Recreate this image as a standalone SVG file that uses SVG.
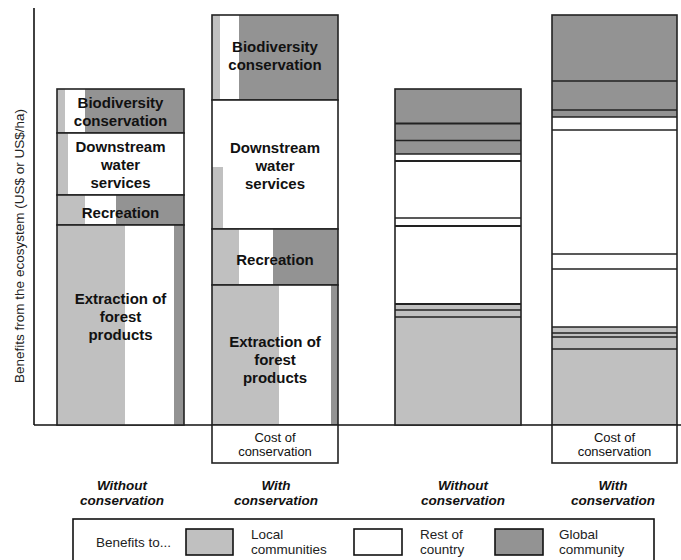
<svg xmlns="http://www.w3.org/2000/svg" width="681" height="560" viewBox="0 0 681 560">
<style>
.lt{fill:#c0c0c0}
.wh{fill:#ffffff}
.dk{fill:#939393}
.ol{fill:none;stroke:#222;stroke-width:1.6}
.ax{stroke:#111;stroke-width:1.6;fill:none}
.lb{font-family:"Liberation Sans",Arial,sans-serif;font-weight:bold;font-size:15px;fill:#111;text-anchor:middle}
.sm{font-family:"Liberation Sans",Arial,sans-serif;font-size:13px;fill:#111;text-anchor:middle}
.cat{font-family:"Liberation Sans",Arial,sans-serif;font-weight:bold;font-style:italic;font-size:13.5px;fill:#111;text-anchor:middle}
.lg{font-family:"Liberation Sans",Arial,sans-serif;font-size:13.5px;fill:#222}
</style>
<rect x="0" y="0" width="681" height="560" fill="#ffffff"/>

<g id="axes">
<line class="ax" x1="34" y1="8" x2="34" y2="425"/>
<line class="ax" x1="34" y1="425" x2="681" y2="425"/>
<text class="lg" transform="translate(24,246) rotate(-90)" text-anchor="middle">Benefits from the ecosystem (US$ or US$/ha)</text>
</g>

<!-- Bar 1: Without conservation -->
<g id="b1-biodiversity">
<rect class="lt" x="57" y="89" width="8" height="44"/>
<rect class="wh" x="65" y="89" width="20" height="44"/>
<rect class="dk" x="85" y="89" width="99" height="44"/>
<rect class="ol" x="57" y="89" width="127" height="44"/>
<text class="lb" x="120.5" y="108">Biodiversity</text>
<text class="lb" x="120.5" y="126">conservation</text>
</g>
<g id="b1-water">
<rect class="lt" x="57" y="133" width="11" height="62"/>
<rect class="wh" x="68" y="133" width="116" height="62"/>
<rect class="ol" x="57" y="133" width="127" height="62"/>
<text class="lb" x="120.5" y="152">Downstream</text>
<text class="lb" x="120.5" y="170">water</text>
<text class="lb" x="120.5" y="188">services</text>
</g>
<g id="b1-recreation">
<rect class="lt" x="57" y="195" width="28" height="30"/>
<rect class="wh" x="85" y="195" width="31" height="30"/>
<rect class="dk" x="116" y="195" width="68" height="30"/>
<rect class="ol" x="57" y="195" width="127" height="30"/>
<text class="lb" x="120.5" y="218">Recreation</text>
</g>
<g id="b1-extraction">
<rect class="lt" x="57" y="225" width="68" height="200"/>
<rect class="wh" x="125" y="225" width="49" height="200"/>
<rect class="dk" x="174" y="225" width="10" height="200"/>
<rect class="ol" x="57" y="225" width="127" height="200"/>
<text class="lb" x="120.5" y="304">Extraction of</text>
<text class="lb" x="120.5" y="322">forest</text>
<text class="lb" x="120.5" y="340">products</text>
</g>

<!-- Bar 2: With conservation -->
<g id="b2-biodiversity">
<rect class="lt" x="212" y="15" width="8" height="85"/>
<rect class="wh" x="220" y="15" width="19" height="85"/>
<rect class="dk" x="239" y="15" width="99" height="85"/>
<rect class="ol" x="212" y="15" width="126" height="85"/>
<text class="lb" x="275" y="52">Biodiversity</text>
<text class="lb" x="275" y="70">conservation</text>
</g>
<g id="b2-water">
<rect class="wh" x="212" y="100" width="126" height="129"/>
<rect class="lt" x="212" y="167" width="11" height="62"/>
<rect class="ol" x="212" y="100" width="126" height="129"/>
<text class="lb" x="275" y="153">Downstream</text>
<text class="lb" x="275" y="171">water</text>
<text class="lb" x="275" y="189">services</text>
</g>
<g id="b2-recreation">
<rect class="lt" x="212" y="229" width="27" height="56"/>
<rect class="wh" x="239" y="229" width="34" height="56"/>
<rect class="dk" x="273" y="229" width="65" height="56"/>
<rect class="ol" x="212" y="229" width="126" height="56"/>
<text class="lb" x="275" y="265">Recreation</text>
</g>
<g id="b2-extraction">
<rect class="lt" x="212" y="285" width="67" height="140"/>
<rect class="wh" x="279" y="285" width="52" height="140"/>
<rect class="dk" x="331" y="285" width="7" height="140"/>
<rect class="ol" x="212" y="285" width="126" height="140"/>
<text class="lb" x="275" y="347">Extraction of</text>
<text class="lb" x="275" y="365">forest</text>
<text class="lb" x="275" y="383">products</text>
</g>
<g id="b2-cost">
<rect class="wh" x="212" y="425" width="126" height="38"/>
<rect class="ol" x="212" y="425" width="126" height="38"/>
<text class="sm" x="275" y="442">Cost of</text>
<text class="sm" x="275" y="456">conservation</text>
</g>

<!-- Bar 3: Without conservation (by beneficiary) -->
<g id="b3">
<rect class="dk" x="395" y="89" width="126" height="65"/>
<rect class="wh" x="395" y="154" width="126" height="149"/>
<rect class="lt" x="395" y="303" width="126" height="122"/>
<rect class="ol" x="395" y="89" width="126" height="336"/>
<g class="ol">
<line x1="395" y1="123.5" x2="521" y2="123.5" stroke-width="2.2"/>
<line x1="395" y1="140.5" x2="521" y2="140.5"/>
<line x1="395" y1="154" x2="521" y2="154"/>
<line x1="395" y1="161" x2="521" y2="161" stroke-width="2.2"/>
<line x1="395" y1="218" x2="521" y2="218"/>
<line x1="395" y1="226" x2="521" y2="226" stroke-width="2.2"/>
<line x1="395" y1="304" x2="521" y2="304" stroke-width="2.2"/>
<line x1="395" y1="310" x2="521" y2="310"/>
<line x1="395" y1="317" x2="521" y2="317"/>
</g>
</g>

<!-- Bar 4: With conservation (by beneficiary) -->
<g id="b4">
<rect class="dk" x="552" y="15" width="125" height="102"/>
<rect class="wh" x="552" y="117" width="125" height="210"/>
<rect class="lt" x="552" y="327" width="125" height="98"/>
<rect class="ol" x="552" y="15" width="125" height="410"/>
<g class="ol">
<line x1="552" y1="81" x2="677" y2="81"/>
<line x1="552" y1="110" x2="677" y2="110"/>
<line x1="552" y1="117" x2="677" y2="117"/>
<line x1="552" y1="130" x2="677" y2="130"/>
<line x1="552" y1="254" x2="677" y2="254"/>
<line x1="552" y1="269" x2="677" y2="269"/>
<line x1="552" y1="327" x2="677" y2="327"/>
<line x1="552" y1="333" x2="677" y2="333"/>
<line x1="552" y1="337" x2="677" y2="337"/>
<line x1="552" y1="349" x2="677" y2="349"/>
</g>
</g>
<g id="b4-cost">
<rect class="wh" x="552" y="425" width="125" height="38"/>
<rect class="ol" x="552" y="425" width="125" height="38"/>
<text class="sm" x="614.5" y="442">Cost of</text>
<text class="sm" x="614.5" y="456">conservation</text>
</g>

<!-- Category labels -->
<g id="categories">
<text class="cat" x="122" y="490">Without</text>
<text class="cat" x="122" y="505">conservation</text>
<text class="cat" x="276" y="490">With</text>
<text class="cat" x="276" y="505">conservation</text>
<text class="cat" x="463" y="490">Without</text>
<text class="cat" x="463" y="505">conservation</text>
<text class="cat" x="613" y="490">With</text>
<text class="cat" x="613" y="505">conservation</text>
</g>

<!-- Legend -->
<g id="legend">
<rect x="73" y="519" width="581" height="45" fill="#fff" stroke="#111" stroke-width="1.6"/>
<text class="lg" x="96" y="547">Benefits to...</text>
<rect class="lt" x="186" y="529" width="47" height="26" stroke="#111" stroke-width="1.6"/>
<text class="lg" x="251" y="539">Local</text>
<text class="lg" x="251" y="554">communities</text>
<rect class="wh" x="354" y="529" width="48" height="26" stroke="#111" stroke-width="1.6"/>
<text class="lg" x="420" y="539">Rest of</text>
<text class="lg" x="420" y="554">country</text>
<rect class="dk" x="495" y="529" width="48" height="26" stroke="#111" stroke-width="1.6"/>
<text class="lg" x="559" y="539">Global</text>
<text class="lg" x="559" y="554">community</text>
</g>
</svg>
